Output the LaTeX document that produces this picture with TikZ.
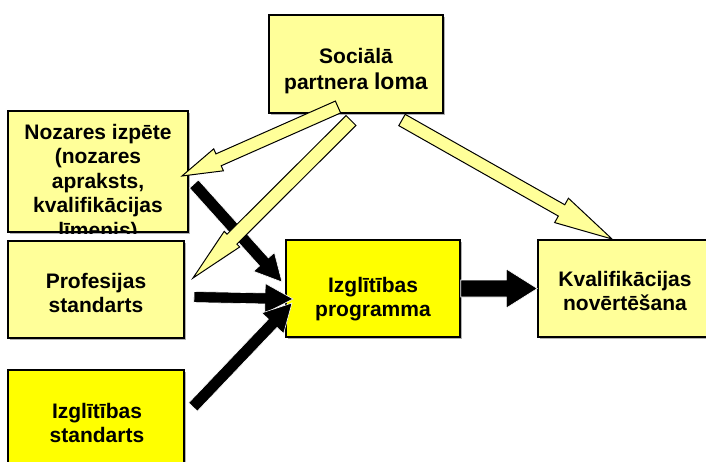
\documentclass[tikz,border=0pt]{standalone}
\usepackage{fontspec}
\setmainfont{Liberation Sans}
\usetikzlibrary{calc,shadows}
\definecolor{lightyel}{HTML}{FFFF99}
\definecolor{brightyel}{HTML}{FFFF00}
% block arrow: #1 style, #2 tail, #3 tip, #4 half shaft, #5 half head, #6 head length
\newcommand\blockarr[6]{%
  \path ($(#3)!#6!(#2)$) coordinate (hb);
  \draw[#1] ($(#2)!#4!90:(#3)$) -- ($(hb)!#4!-90:(#2)$) -- ($(hb)!#5!-90:(#2)$)
    -- (#3) -- ($(hb)!#5!90:(#2)$) -- ($(hb)!#4!90:(#2)$) -- ($(#2)!#4!-90:(#3)$) -- cycle;}
\tikzset{
  box/.style={draw=black, line width=1.4pt, inner sep=0pt,
    drop shadow={shadow xshift=1.5pt, shadow yshift=-1.5pt, fill=gray!60, opacity=1}},
  lbox/.style={box, fill=lightyel},
  ybox/.style={box, fill=brightyel},
  txt/.style={font=\bfseries\fontsize{21}{24}\selectfont, align=center, inner sep=0pt, anchor=north},
  yarr/.style={fill=lightyel, draw=black, line width=1pt, line join=miter},
  barr/.style={fill=black, draw=white, line width=0.6pt, line join=miter}
}
\begin{document}
\begin{tikzpicture}[x=1pt,y=-1pt]
\clip (0,0) rectangle (706,461);
\fill[white] (0,0) rectangle (706,461);
% boxes
\node[lbox, minimum width=174pt, minimum height=98pt] (soc) at (356,64) {};
\node[lbox, minimum width=180pt, minimum height=121pt] (noz) at (98,171.5) {};
\node[lbox, minimum width=176pt, minimum height=97pt] (prof) at (96,289.5) {};
\node[ybox, minimum width=176pt, minimum height=110pt] (izst) at (96,425) {};
\node[ybox, minimum width=174pt, minimum height=97pt] (prog) at (373,288.5) {};
\node[lbox, minimum width=174pt, minimum height=97pt] (kval) at (625,288.5) {};
% texts
\node[txt] (socT) at (356,47.7) {Sociālā\\[2pt]partnera {\fontsize{23}{26}\selectfont loma}};
\begin{scope}
  \clip ($(noz.south west)+(0.7pt,-0.7pt)$) rectangle ($(noz.north east)+(-0.7pt,0.7pt)$);
  \node[txt, font=\bfseries\fontsize{21}{24.5}\selectfont] (nozT) at (98,124) {Nozares izpēte\\(nozares\\apraksts,\\kvalifikācijas\\līmenis)};
\end{scope}
\node[txt] (profT) at (96,272.7) {Profesijas\\standarts};
\node[txt] (izstT) at (97,402.7) {Izglītības\\standarts};
\node[txt] (progT) at (373,276.7) {Izglītības\\programma};
\node[txt] (kvalT) at (625,270.7) {Kvalifikācijas\\novērtēšana};
% connector ends
\coordinate (b1s) at (194,184);  \coordinate (b1t) at (282,282);
\coordinate (b2s) at (194,297);  \coordinate (b2t) at (293,299);
\coordinate (b3s) at (193,407);  \coordinate (b3t) at (292,303);
\coordinate (b4s) at (prog.east); \coordinate (b4t) at (kval.west);
\coordinate (y1s) at (338,107);  \coordinate (y1t) at (182,176);
\coordinate (y2s) at (351,120.5);\coordinate (y2t) at (193,278);
\coordinate (y3s) at (402,120);  \coordinate (y3t) at (612,239);
% black arrows
\blockarr{barr}{b1s}{b1t}{6pt}{14pt}{27pt}
\blockarr{barr}{b2s}{b2t}{5.5pt}{15pt}{28pt}
\blockarr{barr}{b3s}{b3t}{6pt}{15pt}{28pt}
\blockarr{barr}{b4s}{b4t}{8.5pt}{19.5pt}{31pt}
% yellow arrows
\blockarr{yarr}{y1s}{y1t}{6.5pt}{12pt}{40pt}
\blockarr{yarr}{y2s}{y2t}{7pt}{11pt}{55pt}
\blockarr{yarr}{y3s}{y3t}{6.5pt}{14pt}{58pt}
\end{tikzpicture}
\end{document}
